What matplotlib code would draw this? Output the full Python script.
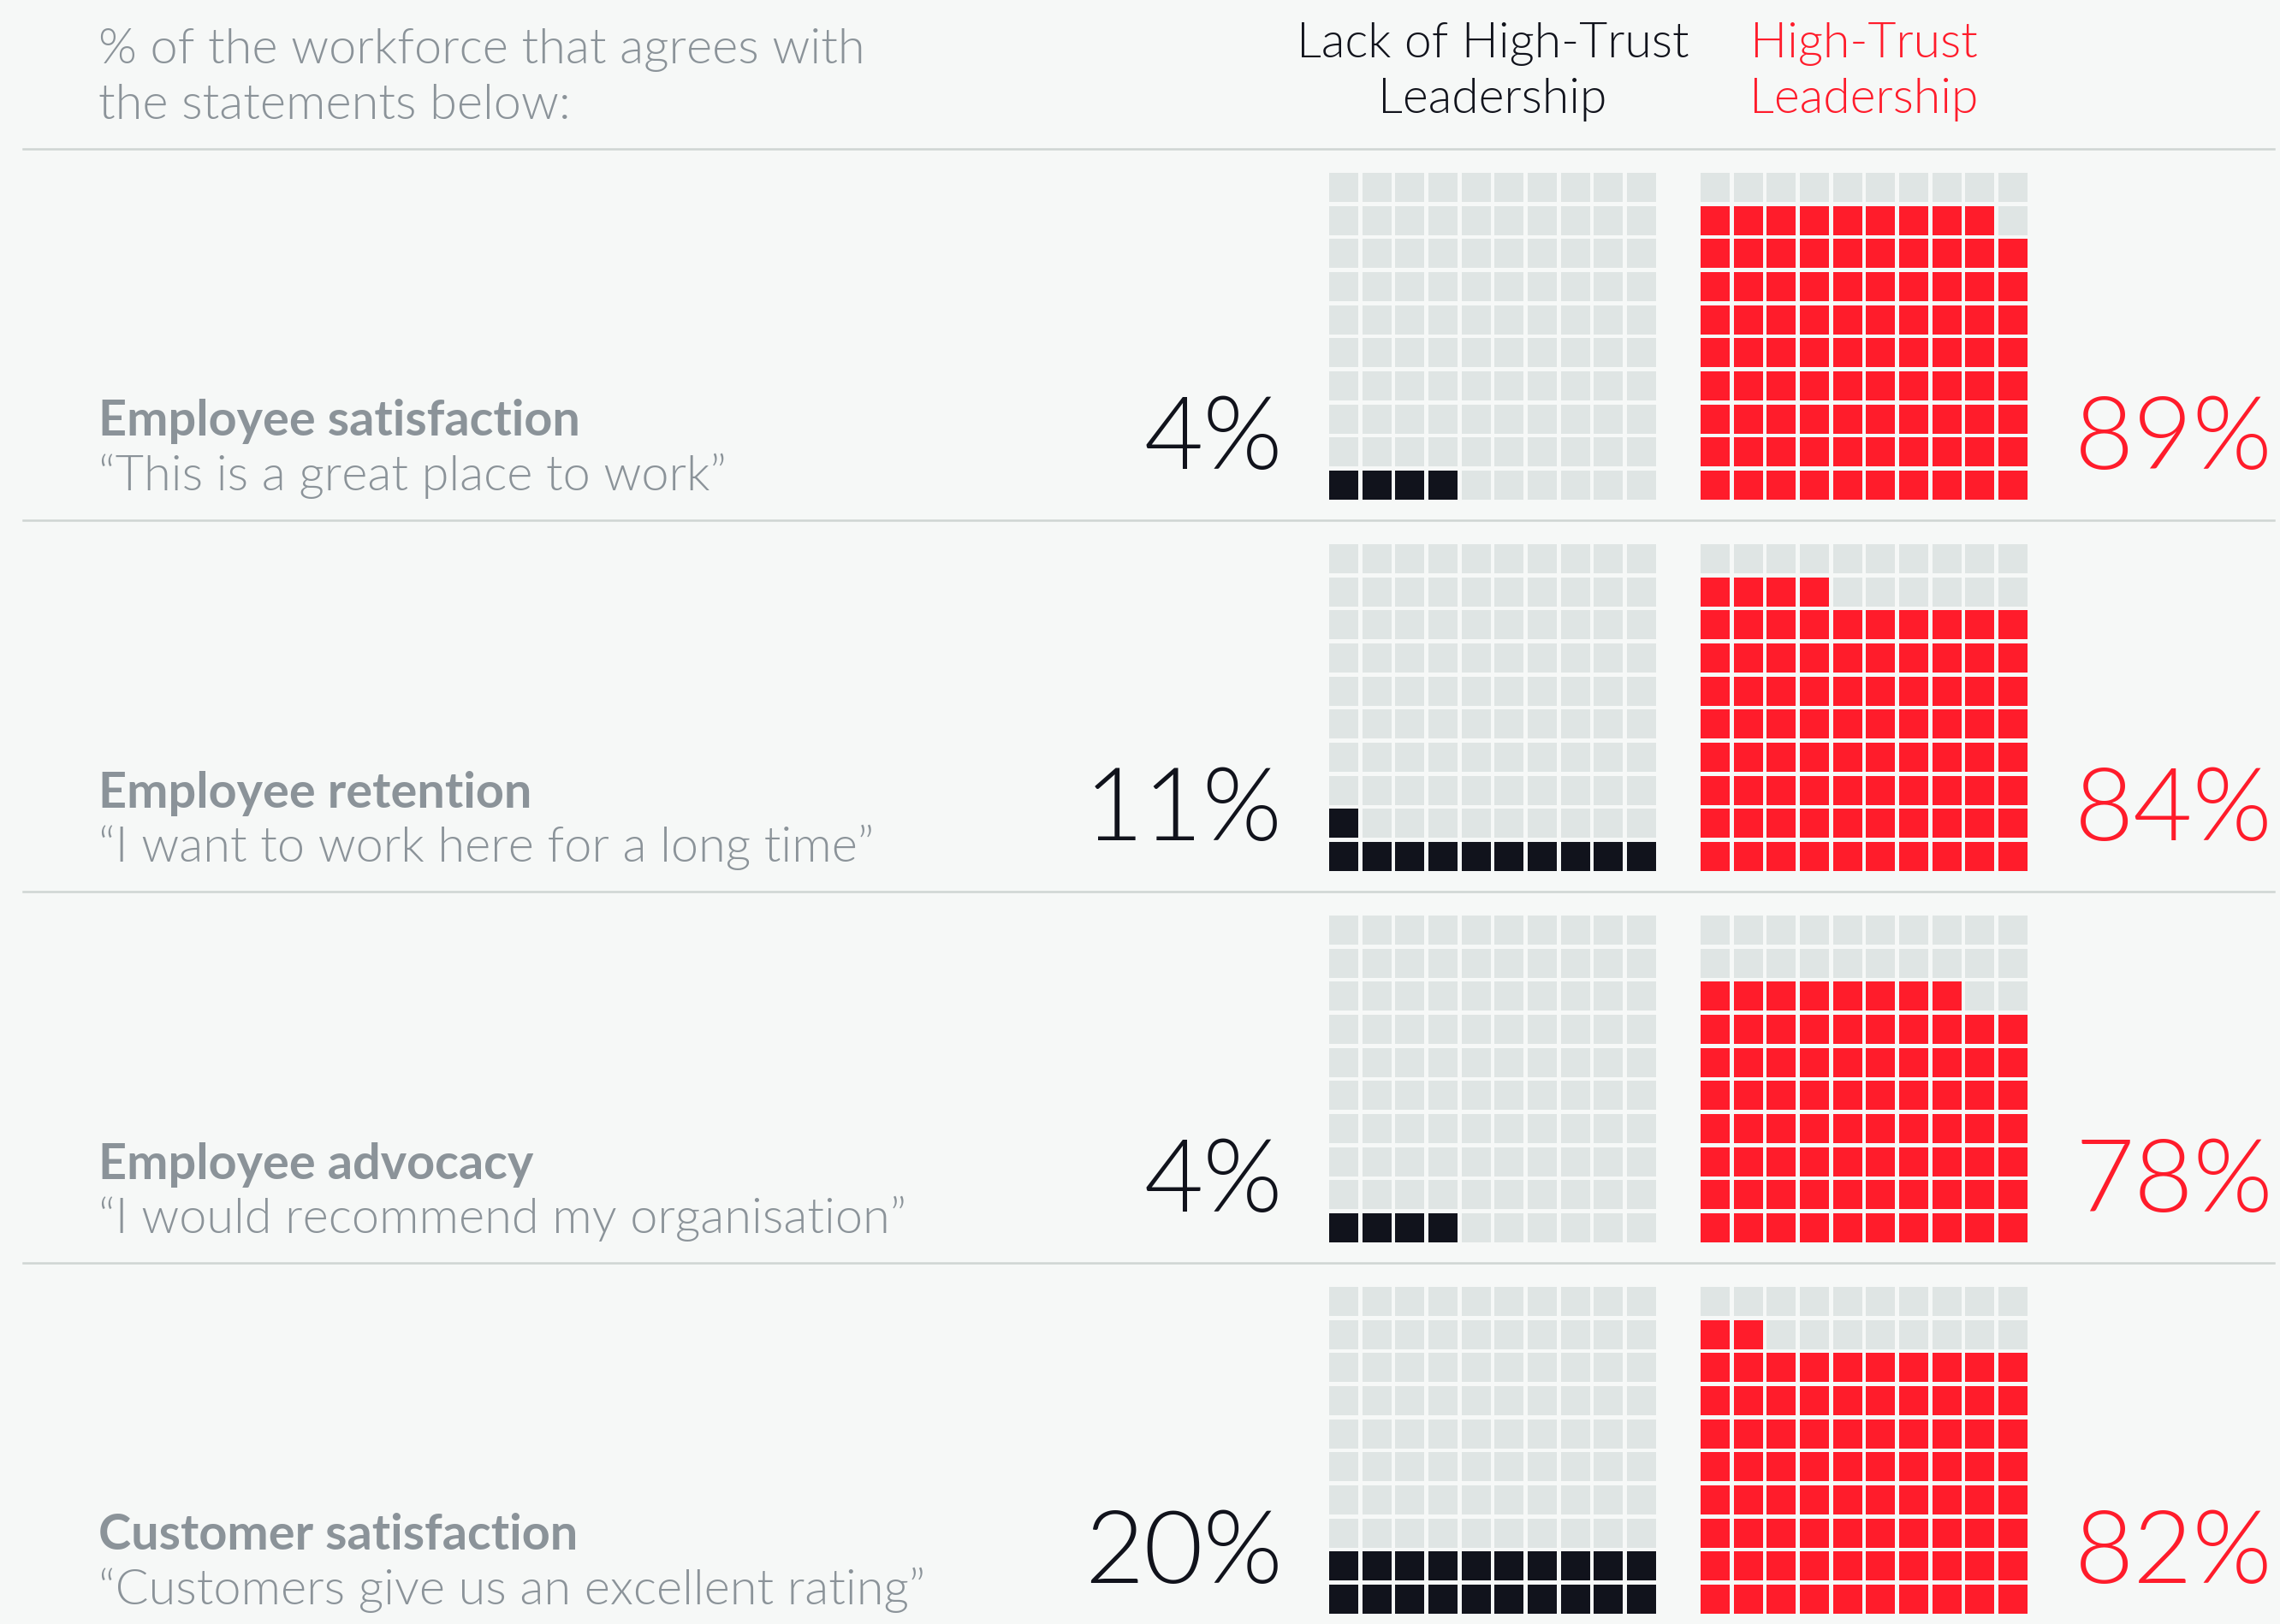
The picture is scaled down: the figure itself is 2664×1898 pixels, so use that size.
import matplotlib.pyplot as plt
from matplotlib.patches import Rectangle

categories = ["Employee satisfaction", "Employee retention",
              "Employee advocacy", "Customer satisfaction"]
quotes = ["\u201cThis is a great place to work\u201d",
          "\u201cI want to work here for a long time\u201d",
          "\u201cI would recommend my organisation\u201d",
          "\u201cCustomers give us an excellent rating\u201d"]
low_trust = [4, 11, 4, 20]
high_trust = [89, 84, 78, 82]
group_labels = ["Lack of High-Trust\nLeadership", "High-Trust\nLeadership"]
intro = "% of the workforce that agrees with\nthe statements below:"

W, H = 2664, 1899
BG = "#f6f8f7"
EMPTY = "#dfe5e4"
DARK = "#11131c"
RED = "#ff1c2b"
GREY = "#8b9399"
LINE = "#cfd5d3"

plt.rcParams["font.family"] = ["Lato", "DejaVu Sans"]

fig = plt.figure(figsize=(W / 100, H / 100), dpi=100)
fig.patch.set_facecolor(BG)


def fx(px):
    return px / W


def fy(py):
    return 1 - py / H


def waffle(ax, value, color):
    gap = 0.12
    for k in range(100):
        r, c = divmod(k, 10)
        fc = color if k < value else EMPTY
        ax.add_patch(Rectangle((c, r), 1 - gap, 1 - gap, facecolor=fc, edgecolor="none"))
    ax.set_xlim(0, 10 - gap)
    ax.set_ylim(0, 10 - gap)
    ax.axis("off")


# header
fig.text(fx(115), fy(91), intro, ha="left", va="center", fontsize=41.5,
         color=GREY, linespacing=1.35, fontweight=300)
fig.text(fx(1744), fy(84), group_labels[0], ha="center", va="center",
         fontsize=41, color=DARK, linespacing=1.35, fontweight=300)
fig.text(fx(2178), fy(84), group_labels[1], ha="center", va="center",
         fontsize=41, color=RED, linespacing=1.35, fontweight=300)

row_top = 175
row_h = 434
grid = 382
for i, (cat, q, lo, hi) in enumerate(zip(categories, quotes, low_trust, high_trust)):
    top = row_top + i * row_h
    fig.add_artist(plt.Line2D([fx(27), fx(2657)], [fy(top), fy(top)],
                              color=LINE, lw=1.8))
    g_top = top + 28
    for x0, val, col in [(1553, lo, DARK), (1987, hi, RED)]:
        ax = fig.add_axes([fx(x0), fy(g_top + grid), grid / W, grid / H])
        waffle(ax, val, col)
    fig.text(fx(115), fy(top + 318), cat, ha="left", va="center",
             fontsize=41.5, color=GREY, fontweight="bold")
    fig.text(fx(115), fy(top + 381), q, ha="left", va="center",
             fontsize=41.5, color=GREY, fontweight=300)
    fig.text(fx(1499), fy(top + 340), f"{lo}%", ha="right", va="center",
             fontsize=86, color=DARK, fontweight=300)
    fig.text(fx(2424), fy(top + 340), f"{hi}%", ha="left", va="center",
             fontsize=86, color=RED, fontweight=300)

fig.savefig("out.png", dpi=100, facecolor=BG)
